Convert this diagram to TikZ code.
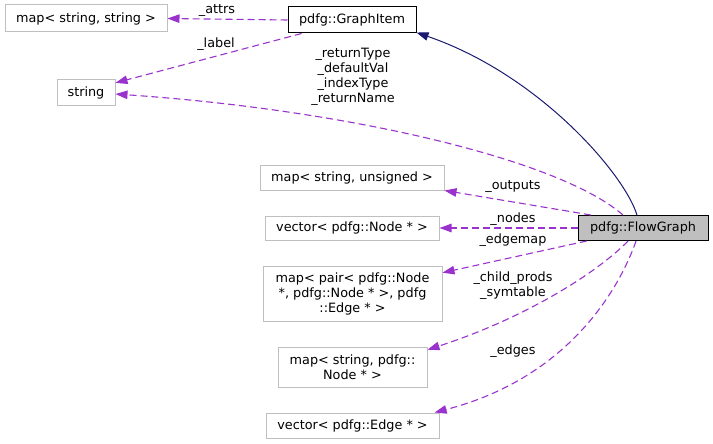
\documentclass[tikz,border=0pt]{standalone}
\usepackage{fontspec}
\setmainfont{DejaVu Sans}
\usetikzlibrary{arrows.meta}
\definecolor{edgepurple}{HTML}{9A32CD}
\definecolor{navyedge}{HTML}{191970}
\definecolor{boxgrey}{HTML}{BFBFBF}
\begin{document}
\begin{tikzpicture}[x=1pt,y=-1pt,
  font=\fontsize{12.8}{15}\selectfont,
  box/.style={draw=boxgrey,line width=1pt,fill=white,inner sep=2pt,align=center},
  mainbox/.style={draw=black,line width=1pt,inner sep=2pt,align=center},
  useedge/.style={draw=edgepurple,line width=1.1pt,dash pattern=on 7pt off 4pt,
    -{Triangle[length=12pt,width=8.5pt]}},
  inhedge/.style={draw=navyedge,line width=1pt,-{Triangle[length=12pt,width=8.5pt]}},
  lbl/.style={align=center,inner sep=0pt}]
\useasboundingbox (0,0) rectangle (713,444);
% nodes
\node[box,minimum width=162pt,minimum height=27pt] (mss) at (86,18.5) {map< string, string >};
\node[mainbox,minimum width=128pt,minimum height=26pt] (gi) at (352,20) {pdfg::GraphItem};
\node[box,minimum width=58pt,minimum height=26pt] (str) at (86,93) {string};
\node[box,minimum width=184pt,minimum height=25pt] (msu) at (352,177.5) {map< string, unsigned >};
\node[box,minimum width=174pt,minimum height=24pt] (vn) at (352,228) {vector< pdfg::Node * >};
\node[mainbox,fill=boxgrey,minimum width=130pt,minimum height=25pt] (fg) at (643,228) {pdfg::FlowGraph};
\node[box,minimum width=179pt,minimum height=55pt] (mp) at (352.5,293.5) {map< pair< pdfg::Node\\*, pdfg::Node * >, pdfg\\::Edge * >};
\node[box,minimum width=149pt,minimum height=40pt] (msn) at (352.5,367) {map< string, pdfg::\\Node * >};
\node[box,minimum width=173pt,minimum height=25pt] (ve) at (352.5,425.5) {vector< pdfg::Edge * >};
% edges
\draw[useedge] (gi.west) -- (mss.east);
\node[lbl] (lattrs) at (217,11) {\_attrs};
\draw[useedge] (gi.195) -- (str.19);
\node[lbl] (llabel) at (216,44) {\_label};
\draw[useedge] (fg.147) .. controls (560,160) and (350,110) .. (str.-2);
\node[lbl] (lret) at (353,77) {\_returnType\\\_defaultVal\\\_indexType\\\_returnName};
\draw[inhedge] (fg.115) .. controls (625,175) and (540,75) .. (gi.-11);
\draw[useedge] (fg.166) -- (msu.-8);
\node[lbl] (lout) at (513,187) {\_outputs};
\draw[useedge] (fg.west) -- (vn.east);
\node[lbl] (lnodes) at (513,219) {\_nodes};
\draw[useedge] (fg.193) -- (mp.13);
\node[lbl] (ledgemap) at (513,240) {\_edgemap};
\draw[useedge] (fg.221) .. controls (595,275) and (520,320) .. (msn.13);
\node[lbl] (lchild) at (513,286) {\_child\_prods\\\_symtable};
\draw[useedge] (fg.242) .. controls (615,300) and (560,380) .. (ve.9);
\node[lbl] (ledges) at (513,351) {\_edges};
\end{tikzpicture}
\end{document}
